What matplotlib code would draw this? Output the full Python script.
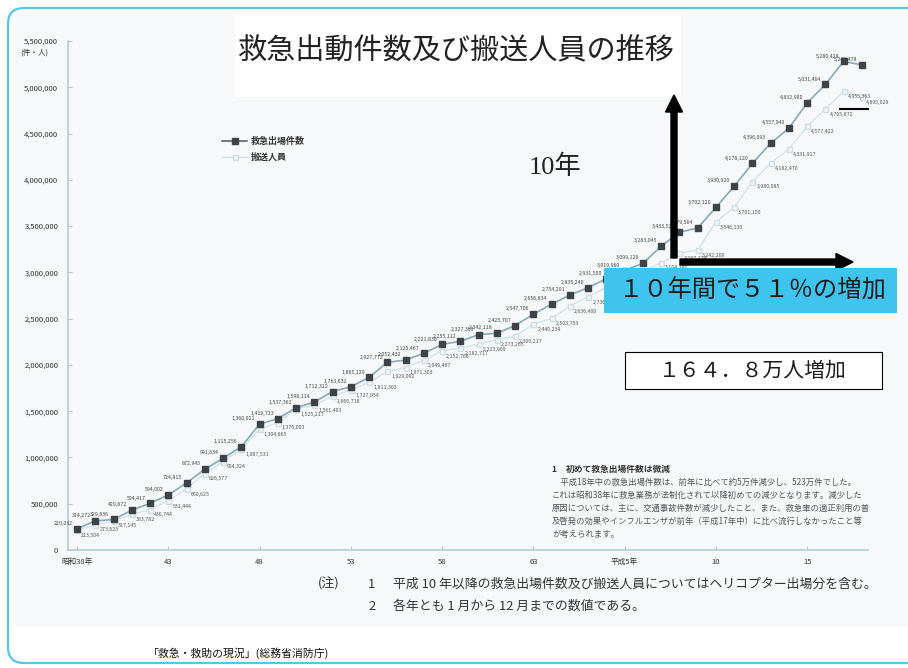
import matplotlib.pyplot as plt
from matplotlib.patches import Rectangle, FancyBboxPatch
from matplotlib.ticker import FuncFormatter

plt.rcParams['font.family'] = ['Noto Sans CJK JP', 'DejaVu Sans']

# 昭和38年(1963) - 平成18年(2006)
years = list(range(1963, 2007))
dispatch = [229032, 314272, 329836, 429872, 504417, 594002, 724815, 872945, 991634, 1115256,
            1360021, 1419723, 1537362, 1598114, 1712322, 1763632, 1865129, 2027772, 2052430, 2125467,
            2221830, 2255112, 2327363, 2342118, 2425707, 2547706, 2656834, 2754201, 2835240, 2931500,
            3019960, 3099120, 3283045, 3433520, 3479564, 3702120, 3930920, 4178120, 4396093, 4557940,
            4832900, 5031464, 5280428, 5240478]
transport = [213504, 273623, 317145, 383782, 436744, 531444, 660625, 826577, 954324, 1087531,
             1304865, 1376003, 1525217, 1561403, 1666718, 1727854, 1811303, 1929092, 1971303, 2049467,
             2152766, 2182717, 2223909, 2273265, 2309217, 2440239, 2503753, 2636400, 2736400, 2836500,
             2931000, 3011900, 3104380, 3207123, 3242200, 3546130, 3701150, 3980085, 4182470, 4331917,
             4577422, 4765872, 4955363, 4895029]
tick_years = [1963, 1968, 1973, 1978, 1983, 1988, 1993, 1998, 2003]
tick_labels = ['昭和38年', '43', '48', '53', '58', '63', '平成5年', '10', '15']
y_ticks = [0, 500000, 1000000, 1500000, 2000000, 2500000, 3000000, 3500000, 4000000, 4500000,
           5000000, 5500000]

note_lines = [
    '　平成18年中の救急出場件数は、前年に比べて約5万件減少し、523万件でした。',
    'これは昭和38年に救急業務が法制化されて以降初めての減少となります。減少した',
    '原因については、主に、交通事故件数が減少したこと、また、救急車の適正利用の普',
    '及啓発の効果やインフルエンザが前年（平成17年中）に比べ流行しなかったこと等',
    'が考えられます。',
]

W, H = 908, 668
fig = plt.figure(figsize=(W / 100, H / 100), dpi=100)

# background layer (pixel coords)
bg = fig.add_axes([0, 0, 1, 1], zorder=0)
bg.set_xlim(0, W)
bg.set_ylim(H, 0)
bg.axis('off')
bg.add_patch(Rectangle((15, 15), 893, 612, fc='#f7f8fa', ec='none'))
bg.add_patch(FancyBboxPatch((8, 8), 960, 655, boxstyle='round,pad=0,rounding_size=16',
                            fc='none', ec='#55c5ec', lw=1.6))

# chart
ax = fig.add_axes([68 / W, 1 - 550 / H, 800 / W, 509 / H], zorder=1)
ax.patch.set_alpha(0)
ax.plot(years, transport, color='#d3e3ea', lw=1.0, marker='s', ms=3.6,
        mfc='#f0f5f7', mec='#cfdee5', zorder=2)
ax.plot(years, dispatch, color='#86aab8', lw=1.2, marker='s', ms=4.8,
        mfc='#3d4346', mec='#3d4346', zorder=3)

for x, v in zip(years, dispatch):
    ax.annotate(f'{v:,}', (x, v), xytext=(-3, 2), textcoords='offset points',
                ha='right', va='bottom', fontsize=3.8, color='#444', zorder=4)
for x, v in zip(years, transport):
    ax.annotate(f'{v:,}', (x, v), xytext=(3, -2), textcoords='offset points',
                ha='left', va='top', fontsize=3.8, color='#555', zorder=4)

ax.set_xlim(1962.507, 2006.33)
ax.set_ylim(0, 5500000)
ax.set_yticks(y_ticks)
ax.yaxis.set_major_formatter(FuncFormatter(lambda v, p: f'{v:,.0f}'))
ax.set_xticks(tick_years)
ax.set_xticklabels(tick_labels)
for s in ['top', 'right']:
    ax.spines[s].set_visible(False)
for s in ['left', 'bottom']:
    ax.spines[s].set_color('#b3cdd8')
    ax.spines[s].set_linewidth(1.2)
ax.tick_params(axis='both', direction='in', length=3, color='#b3cdd8',
               labelsize=5.5, labelcolor='#333333')
ax.tick_params(axis='y', pad=7)
ax.tick_params(axis='x', pad=6)

# overlay layer (pixel coords)
ov = fig.add_axes([0, 0, 1, 1], zorder=3)
ov.set_xlim(0, W)
ov.set_ylim(H, 0)
ov.axis('off')
ov.patch.set_alpha(0)

ov.text(20, 53, '(件・人)', fontsize=5.5, color='#333333', va='center')

# title box
ov.add_patch(Rectangle((235, 15), 446, 82, fc='white', ec='none'))
ov.text(456, 51, '救急出動件数及び搬送人員の推移', fontsize=21, ha='center', va='center', color='#222')

# legend
ov.plot([222, 247], [141, 141], color='#55666d', lw=1.2)
ov.plot([234.5], [141], marker='s', ms=4.8, color='#3d4346')
ov.text(251, 141, '救急出場件数', fontsize=6.5, va='center', color='#333', fontweight='bold')
ov.plot([222, 247], [157, 157], color='#d3e3ea', lw=1.0)
ov.plot([234.5], [157], marker='s', ms=3.6, mfc='#f0f5f7', mec='#cfdee5')
ov.text(251, 157, '搬送人員', fontsize=6.5, va='center', color='#333', fontweight='bold')

# note inside chart
ov.text(551, 469, '1', fontsize=6, color='#333', va='center', fontweight='bold')
ov.text(566, 469, '初めて救急出場件数は微減', fontsize=6.3, color='#333', va='center', fontweight='bold')
for i, line in enumerate(note_lines):
    ov.text(552, 482 + 13 * i, line, fontsize=6, color='#555', va='center')

# notes under chart
ov.text(318, 584, '(注)', fontsize=9.3, color='#333', va='center')
ov.text(368, 584, '1', fontsize=9.3, color='#333', va='center')
ov.text(393, 584, '平成 10 年以降の救急出場件数及び搬送人員についてはヘリコプター出場分を含む。',
        fontsize=9.3, color='#333', va='center')
ov.text(368, 606, '2', fontsize=9.3, color='#333', va='center')
ov.text(393, 606, '各年とも 1 月から 12 月までの数値である。', fontsize=9.3, color='#333', va='center')

ov.text(148, 653, '「救急・救助の現況」(総務省消防庁)', fontsize=7.8, color='#111', va='center')

# arrows and callouts
ov.arrow(674, 258, 0, -163, width=6, head_width=17, head_length=17,
         length_includes_head=True, color='black')
ov.arrow(680, 262, 173, 0, width=6, head_width=17, head_length=17,
         length_includes_head=True, color='black')
ov.plot([840, 868], [109, 109], color='black', lw=1.5)

ov.text(555, 167, '10年', fontsize=19, ha='center', va='center', color='#222',
        family=['Liberation Serif', 'Noto Sans CJK JP'])

ov.add_patch(Rectangle((604, 268), 293, 45, fc='#3fc4f0', ec='none'))
ov.text(752, 291, '１０年間で５１％の増加', fontsize=17.5, ha='center', va='center', color='#1d1d1d')

ov.add_patch(Rectangle((625, 352), 257, 37, fc='white', ec='black', lw=0.8))
ov.text(753, 371, '１６４．８万人増加', fontsize=15, ha='center', va='center', color='#1d1d1d')

fig.savefig('out.png', dpi=100)
